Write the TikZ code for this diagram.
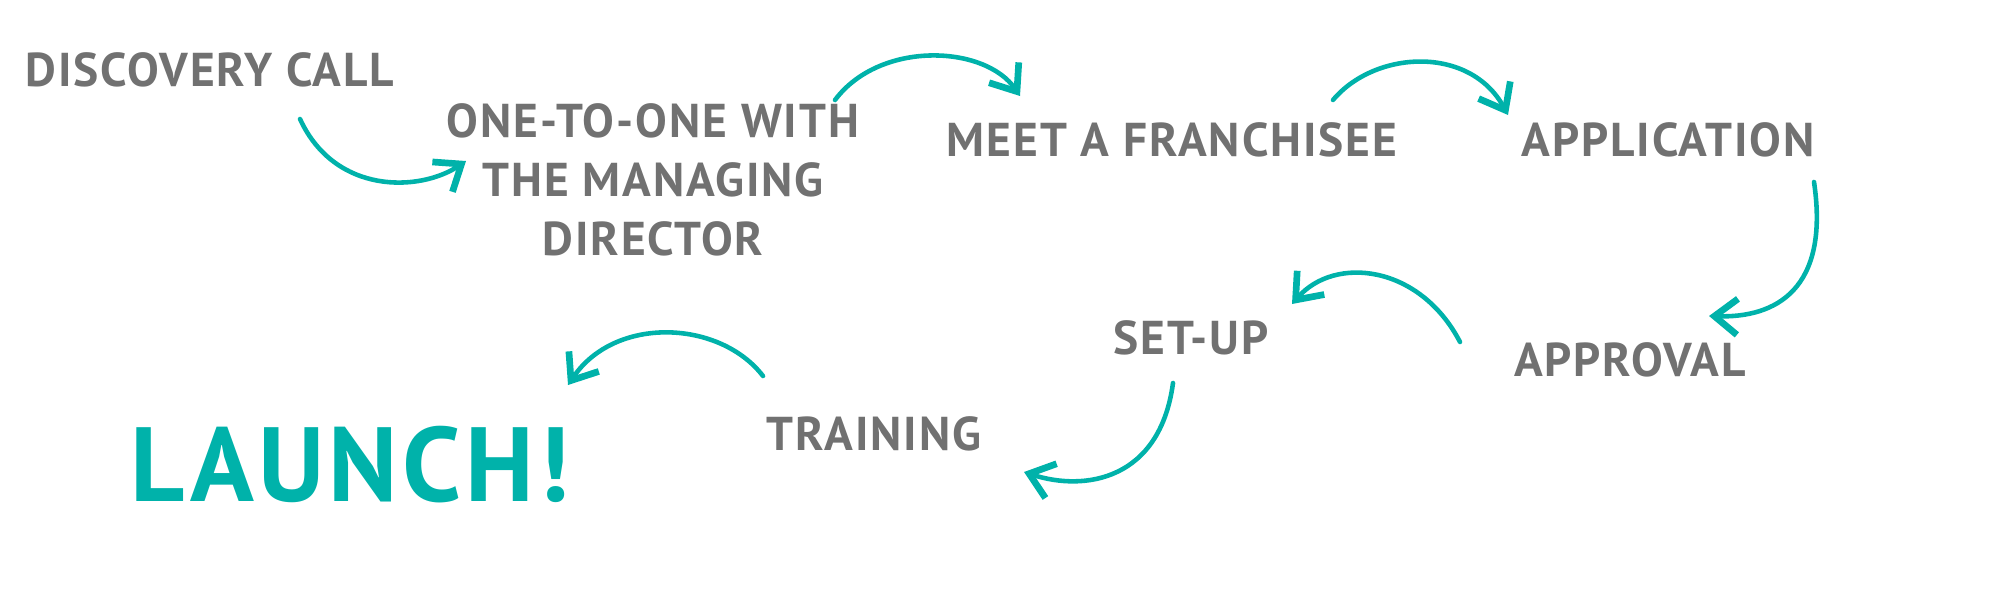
\documentclass[tikz,border=0pt]{standalone}
\usepackage{fontspec}
\setmainfont{PT Sans}[LetterSpace=4]
\usetikzlibrary{arrows.meta}

\definecolor{stepgray}{HTML}{717171}
\definecolor{stepteal}{HTML}{00B2AA}

\begin{document}
\begin{tikzpicture}[
        x=0.01cm, y=-0.01cm,
        stage/.style={text=stepgray, font=\fontsize{13.5}{16.8}\selectfont\bfseries, align=center, inner sep=0pt},
        finish/.style={text=stepteal, font=\fontsize{30}{32}\selectfont\bfseries, inner sep=0pt},
        flow/.style={draw=stepteal, line width=1.3pt, line cap=round,
            -{Straight Barb[length=2.3mm, width=3.6mm, line width=1.9pt]}}
    ]
        \useasboundingbox (0,0) rectangle (2000,600);

        % Top row stages
        \node[stage] (discovery) at (210,70) {DISCOVERY CALL};
        \node[stage] (onetoone) at (653,180) {ONE-TO-ONE WITH\\THE MANAGING\\DIRECTOR};
        \node[stage] (meet) at (1172,140) {MEET A FRANCHISEE};
        \node[stage] (application) at (1668,140) {APPLICATION};

        % Bottom row stages
        \node[stage] (approval) at (1630,360) {APPROVAL};
        \node[stage] (setup) at (1191,338) {SET-UP};
        \node[stage] (training) at (874,434) {TRAINING};
        \node[finish] (launch) at (350,465) {LAUNCH!};

        % Arrow end points
        \coordinate (a1) at (300,119);   \coordinate (b1) at (466,161);
        \coordinate (a2) at (835,100);   \coordinate (b2) at (1020,96);
        \coordinate (a3) at (1333,100);  \coordinate (b3) at (1508,115);
        \coordinate (a4) at (1814,182);  \coordinate (b4) at (1709,316);
        \coordinate (a5) at (1460,342);  \coordinate (b5) at (1292,304);
        \coordinate (a6) at (1173,383);  \coordinate (b6) at (1024,472);
        \coordinate (a7) at (763,376);   \coordinate (b7) at (568,385);

        % Connections
        \draw[flow] (a1) .. controls (335,195) and (420,192) .. (b1);
        \draw[flow] (a2) .. controls (880,40) and (985,45) .. (b2);
        \draw[flow] (a3) .. controls (1375,50) and (1470,45) .. (b3);
        \draw[flow] (a4) .. controls (1830,290) and (1775,318) .. (b4);
        \draw[flow] (a5) .. controls (1420,265) and (1335,255) .. (b5);
        \draw[flow] (a6) .. controls (1160,480) and (1085,492) .. (b6);
        \draw[flow] (a7) .. controls (720,320) and (615,315) .. (b7);

    \end{tikzpicture}
\end{document}
